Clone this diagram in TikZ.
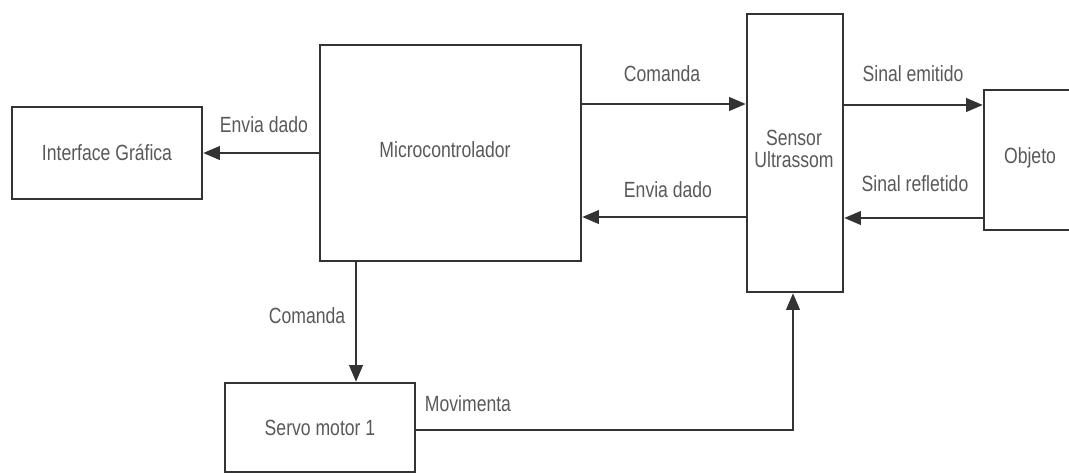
\documentclass[tikz,border=0pt]{standalone}
\usepackage{fontspec}
\setmainfont[FakeStretch=0.8]{Liberation Sans}
\usetikzlibrary{arrows.meta}

\begin{document}
\begin{tikzpicture}[x=0.75pt, y=-0.75pt,
    bloco/.style={draw=black!80, line width=1.7pt, fill=white, text=black!65,
                  align=center, inner sep=0pt, font=\fontsize{16.5}{19}\selectfont},
    seta/.style={draw=black!80, line width=2pt, -{Triangle[length=12.5pt,width=10pt]}},
    rotulo/.style={text=black!65, inner sep=0pt, font=\fontsize{16.5}{19}\selectfont}]

    \useasboundingbox (0,0) rectangle (1069,475);
    \clip (0,0) rectangle (1069,475);

    % 1. Blocos
    \node[bloco, minimum width=142.5pt, minimum height=69pt] (iface) at (107,153) {Interface Gráfica};
    \node[bloco, minimum width=195.75pt, minimum height=162pt] (micro) at (450.5,153) {};
    \node[rotulo] (microtxt) at (445,150) {Microcontrolador};
    \node[bloco, minimum width=72pt, minimum height=208.5pt] (sensor) at (795,153) {};
    \node[rotulo, align=center] (sensortxt) at (794,149) {Sensor\\[-2pt]Ultrassom};
    \node[bloco, minimum width=72pt, minimum height=105pt] (objeto) at (1032,160) {};
    \node[rotulo] (objetotxt) at (1030,158) {Objeto};
    \node[bloco, minimum width=142.5pt, minimum height=66.75pt] (servo) at (320,427.5) {Servo motor 1};

    % 2. Setas
    \draw[seta] (micro.west) -- (iface.east);
    \draw[seta] (micro.east |- 0,104) -- (sensor.west |- 0,104);
    \draw[seta] (sensor.west |- 0,217) -- (micro.east |- 0,217);
    \draw[seta] (sensor.east |- 0,105) -- (objeto.west |- 0,105);
    \draw[seta] (objeto.west |- 0,218) -- (sensor.east |- 0,218);
    \draw[seta] (micro.south -| 356,0) -- (servo.north -| 356,0);
    \draw[seta] (servo.east |- 0,430) -| (sensor.south -| 793,0);

    % 3. Rotulos das setas
    \node[rotulo] (l-envia1) at (264,125) {Envia dado};
    \node[rotulo] (l-cmd1) at (662,74) {Comanda};
    \node[rotulo] (l-envia2) at (668,190) {Envia dado};
    \node[rotulo] (l-emit) at (913,74) {Sinal emitido};
    \node[rotulo] (l-refl) at (915,184) {Sinal refletido};
    \node[rotulo] (l-cmd2) at (307,316) {Comanda};
    \node[rotulo] (l-mov) at (468,404) {Movimenta};

\end{tikzpicture}
\end{document}
